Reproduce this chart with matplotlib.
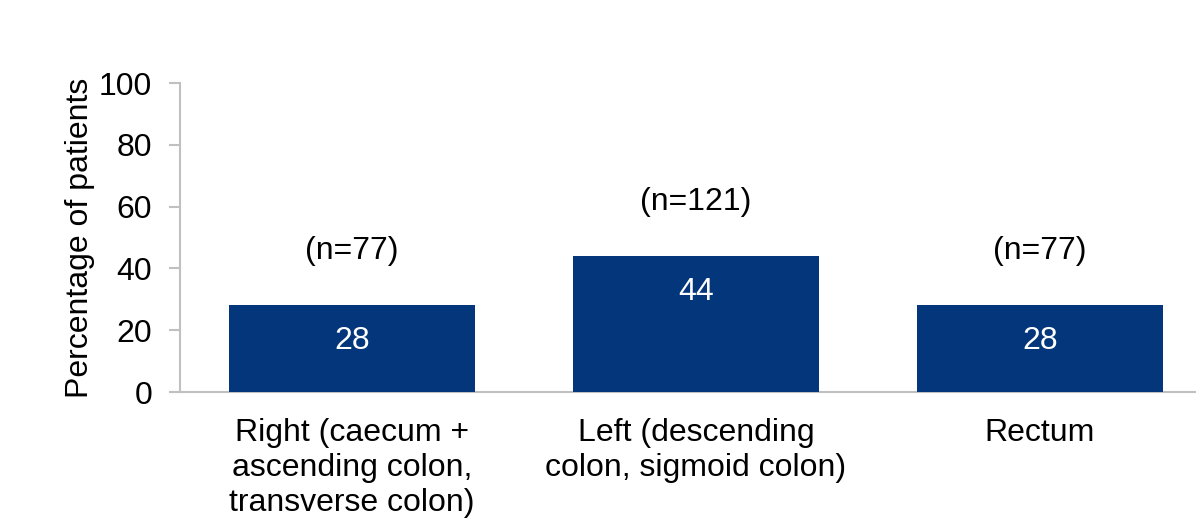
import matplotlib
matplotlib.use("Agg")
import matplotlib.pyplot as plt

categories = ["Right (caecum +\nascending colon,\ntransverse colon)",
              "Left (descending\ncolon, sigmoid colon)",
              "Rectum"]
values = [28, 44, 28]
n_labels = ["(n=77)", "(n=121)", "(n=77)"]
yticks = [0, 20, 40, 60, 80, 100]

plt.rcParams['font.family'] = ['Liberation Sans', 'DejaVu Sans']

W, H = 1196, 532
FS = 23
fig = plt.figure(figsize=(W / 100, H / 100), dpi=100)
ax = fig.add_axes([180 / W, (H - 392) / H, 1032 / W, 309 / H])

x = list(range(len(categories)))
bar_color = "#03367A"
ax.bar(x, values, width=0.713, color=bar_color, zorder=3)
ax.set_xlim(-0.5, 2.5)
ax.set_ylim(0, 100)
ax.set_yticks(yticks)
ax.set_yticklabels([str(t) for t in yticks], fontsize=FS)

for xi, v, n in zip(x, values, n_labels):
    ax.text(xi, v - 11.5, str(v), ha="center", va="center", color="white", fontsize=FS)
    ax.text(xi, v + 17.6, n, ha="center", va="center", color="black", fontsize=FS)

ax.set_xticks(x)
ax.set_xticklabels(categories, fontsize=FS, linespacing=1.2, va="top")
ax.tick_params(axis="x", length=0, pad=19)
ax.tick_params(axis="y", length=8, width=1.5, color="#c0c0c0", pad=12)

for s in ["top", "right"]:
    ax.spines[s].set_visible(False)
for s in ["left", "bottom"]:
    ax.spines[s].set_color("#c0c0c0")
    ax.spines[s].set_linewidth(1.5)
ax.spines["bottom"].set_bounds(-0.5 - 8 / 344, 2.5)

ax.set_ylabel("Percentage of patients", fontsize=FS, labelpad=3)

fig.savefig("out.png", dpi=100)
